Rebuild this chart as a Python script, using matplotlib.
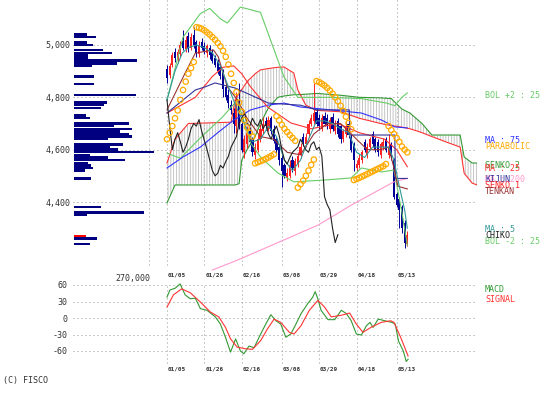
import numpy as np
import matplotlib.pyplot as plt

# ---- candles (trading days from 01/05) ----
opens = [4910, 4885, 4925, 4975, 4945, 4965, 5015, 4985, 5035, 4990, 5040, 5010, 4965, 5010, 4995,
         4970, 4990, 4975, 4950, 4935, 4915, 4900, 4840, 4810, 4770, 4740, 4690, 4780, 4700, 4590,
         4620, 4670, 4640, 4580, 4600, 4640, 4670, 4710, 4680, 4720, 4680, 4640, 4610, 4570, 4540,
         4490, 4500, 4560, 4520, 4545, 4580, 4650, 4620, 4660, 4700, 4710, 4745, 4720, 4680, 4730,
         4720, 4680, 4725, 4670, 4710, 4690, 4640, 4660, 4700, 4650, 4620, 4530, 4540, 4560, 4630,
         4580, 4610, 4660, 4640, 4630, 4580, 4610, 4640, 4580, 4620, 4560, 4430, 4410, 4380, 4320, 4240]
closes = [4875, 4920, 4960, 4950, 4975, 5000, 4990, 5020, 4985, 5030, 5000, 4970, 5000, 4990, 4975,
          4995, 4960, 4940, 4925, 4900, 4880, 4830, 4800, 4780, 4750, 4700, 4790, 4690, 4600, 4640,
          4665, 4630, 4590, 4610, 4640, 4680, 4700, 4690, 4715, 4670, 4635, 4600, 4560, 4520, 4500,
          4510, 4540, 4530, 4555, 4575, 4610, 4630, 4650, 4700, 4720, 4740, 4700, 4690, 4720, 4700,
          4690, 4715, 4680, 4700, 4660, 4640, 4670, 4690, 4655, 4600, 4560, 4545, 4570, 4590, 4600,
          4610, 4640, 4620, 4600, 4590, 4620, 4630, 4600, 4610, 4575, 4420, 4390, 4370, 4300, 4245, 4275]
highs = [4925, 4930, 4975, 4990, 4985, 5015, 5057, 5035, 5050, 5045, 5070, 5020, 5015, 5025, 5010,
         5005, 5000, 4985, 4960, 4945, 4925, 4910, 4855, 4830, 4790, 4760, 4820, 4855, 4710, 4655,
         4690, 4685, 4650, 4625, 4660, 4700, 4725, 4725, 4730, 4730, 4695, 4650, 4620, 4580, 4550,
         4530, 4560, 4575, 4570, 4590, 4625, 4665, 4665, 4715, 4735, 4855, 4760, 4735, 4735, 4745,
         4735, 4725, 4740, 4715, 4720, 4700, 4680, 4705, 4710, 4660, 4630, 4560, 4585, 4600, 4640,
         4625, 4650, 4670, 4650, 4640, 4630, 4645, 4650, 4660, 4630, 4570, 4440, 4420, 4390, 4330, 4290]
lows = [4855, 4875, 4915, 4935, 4930, 4955, 4980, 4975, 4975, 4980, 4990, 4955, 4955, 4980, 4965,
        4955, 4945, 4930, 4915, 4890, 4870, 4800, 4790, 4760, 4735, 4665, 4665, 4680, 4590, 4570,
        4605, 4620, 4575, 4565, 4590, 4630, 4660, 4675, 4670, 4660, 4625, 4585, 4540, 4457, 4490,
        4480, 4490, 4515, 4505, 4535, 4570, 4615, 4610, 4650, 4690, 4700, 4690, 4675, 4670, 4690,
        4680, 4665, 4670, 4660, 4650, 4625, 4630, 4650, 4645, 4590, 4520, 4520, 4530, 4550, 4590,
        4570, 4600, 4610, 4590, 4575, 4570, 4600, 4590, 4570, 4560, 4410, 4380, 4300, 4280, 4225, 4230]

# ---- indicator lines (day, value) ----
bol_up_d = [0, 6, 12.5, 16, 20, 22.6, 27.5, 35, 43.8, 49, 61.5, 72.8, 82.3, 85.3, 88, 90]
bol_up_v = [4790, 5030, 5120, 5140, 5100, 5084, 5145, 5125, 4878, 4800, 4800, 4795, 4778, 4768, 4800, 4817]
bol_lo_d = [0, 5, 11.7, 20.8, 26.4, 31.3, 35, 41.5, 47.5, 59, 69, 72.8, 80.4, 85, 88, 90]
bol_lo_v = [4587, 4567, 4637, 4725, 4790, 4626, 4572, 4511, 4477, 4484, 4492, 4530, 4515, 4522, 4360, 4235]
ma75_d = [0, 6, 12.5, 18.9, 25, 31.3, 37.7, 43.8, 50, 61.5, 72.8, 80.4, 85.3, 90]
ma75_v = [4530, 4572, 4610, 4664, 4713, 4752, 4770, 4778, 4763, 4752, 4740, 4713, 4687, 4683]
ma25_d = [0, 10.6, 17, 21, 25, 28, 31.3, 37.7, 46.4, 54, 64, 72, 81.5, 86, 90]
ma25_v = [4740, 4800, 4880, 4915, 4920, 4890, 4840, 4763, 4702, 4680, 4700, 4665, 4640, 4600, 4535]
ma5_d = [0, 3, 5.7, 8, 11, 14, 17, 20, 23, 26, 29, 32, 35, 38, 41, 44, 47, 50, 53, 56, 59, 62,
         65, 68, 71, 74, 77, 80, 83, 85, 87, 89, 90]
ma5_v = [4790, 4900, 4969, 4990, 5000, 4990, 4970, 4920, 4840, 4760, 4700, 4630, 4640, 4690, 4650,
         4560, 4520, 4560, 4640, 4710, 4710, 4700, 4680, 4665, 4590, 4570, 4610, 4610, 4610, 4560,
         4460, 4370, 4300]
ma200_d = [17, 26.4, 43.8, 56.6, 69, 85, 90]
ma200_v = [4140, 4178, 4255, 4312, 4388, 4477, 4490]
tenkan_d = [0, 6.8, 10.6, 17.4, 19.2, 22.6, 26.4, 30, 35, 40, 45, 50, 55, 60, 65, 70, 75, 80, 83, 85, 86.5, 90]
tenkan_v = [4752, 4893, 4969, 4981, 4955, 4840, 4790, 4720, 4650, 4640, 4590, 4580, 4660, 4700,
            4700, 4650, 4600, 4600, 4610, 4530, 4460, 4450]
kijun_d = [0, 10.6, 14.3, 18, 25.7, 38, 50, 56, 68.3, 68.5, 80.4, 85.3, 85.6, 90]
kijun_v = [4740, 4828, 4840, 4855, 4835, 4778, 4770, 4752, 4752, 4656, 4656, 4656, 4490, 4490]
span_d = [0, 3, 8, 24, 25.5, 27, 28, 30, 33, 35, 38, 41.5, 43.8, 47.5, 49, 52, 56, 65, 72, 80,
          84, 88, 91, 95.5, 99.2, 105.7, 109.8, 111.3, 114.3, 116.2]
senko1 = [4549, 4640, 4700, 4705, 4790, 4815, 4830, 4860, 4890, 4905, 4910, 4915, 4916, 4893, 4828,
          4770, 4750, 4745, 4720, 4700, 4692, 4686, 4680, 4665, 4650, 4625, 4610, 4510, 4472, 4465]
senko2 = [4396, 4465, 4465, 4465, 4465, 4470, 4560, 4600, 4650, 4700, 4760, 4800, 4805, 4810, 4810,
          4812, 4815, 4808, 4800, 4798, 4795, 4755, 4740, 4700, 4656, 4656, 4656, 4572, 4549, 4549]
sar = [4640, 4665, 4690, 4720, 4750, 4790, 4828, 4860, 4890, 4912, 4935, 5068, 5066, 5062, 5056,
       5048, 5040, 5030, 5020, 5008, 4995, 4978, 4955, 4925, 4890, 4855, 4820, 4780, 4745, 4712,
       4685, 4665, 4650, 4548, 4552, 4556, 4560, 4565, 4570, 4576, 4582, 4728, 4712, 4695, 4680,
       4668, 4656, 4645, 4634, 4455, 4468, 4482, 4500, 4520, 4542, 4562, 4862, 4858, 4852, 4845,
       4836, 4826, 4814, 4800, 4785, 4768, 4748, 4726, 4702, 4678, 4484, 4488, 4492, 4497, 4502,
       4507, 4512, 4517, 4522, 4527, 4532, 4537, 4545, 4690, 4675, 4660, 4645, 4630, 4612, 4600, 4590]

# ---- volume by price ----
vp_price = [5040, 5030, 5010, 5000, 4980, 4970, 4960, 4950, 4940, 4930, 4920, 4880, 4850, 4810,
            4780, 4770, 4760, 4730, 4720, 4700, 4690, 4680, 4670, 4660, 4650, 4640, 4620, 4610,
            4600, 4590, 4580, 4570, 4560, 4550, 4540, 4530, 4520, 4490, 4380, 4360, 4350, 4270,
            4260, 4240]
vp_vol = [44, 74, 44, 64, 98, 128, 47, 47, 213, 145, 61, 68, 68, 209, 111, 101, 91, 41, 54, 186,
          135, 196, 155, 186, 196, 115, 165, 122, 149, 270, 54, 115, 172, 47, 57, 64, 37, 57, 91,
          236, 44, 41, 78, 54]

# ---- MACD ----
macd_d = [0, 1.1, 3, 4.9, 6.8, 8.7, 10.6, 12.5, 15, 18.1, 20, 21.9, 23.8, 25.7, 27.5, 28.8, 30.7,
          32.6, 35.1, 37, 38.9, 40.8, 42.6, 44.5, 46.4, 48.3, 50.2, 52.7, 54.6, 55.5, 56.5, 57.7,
          60.3, 62.8, 65.3, 67.2, 69, 70.9, 72.8, 74.7, 76, 77.2, 79.1, 81.6, 84.2, 85.5, 86.7,
          88.5, 89.6, 90.3]
macd_v = [38, 51, 54, 62, 42, 35, 36, 17, 14, 2, -11, -35, -62, -38, -60, -65, -51, -54, -29, -11,
          6, -5, -11, -35, -29, -11, 8, 26, 38, 48, 35, 14, -3, -3, 14, 8, -5, -29, -31, -14, -8,
          -17, -2, -5, -8, -11, -42, -60, -79, -75]
sig_d = [0, 2.4, 5.5, 8.7, 12.5, 16.2, 19.4, 21.9, 23.8, 26.3, 29.4, 32, 35.1, 37.6, 40.1, 42.6,
         45.8, 47.6, 50.2, 53.3, 56.5, 59, 61.5, 65.3, 68.4, 70.9, 73.4, 76.4, 80.2, 83.8, 85, 87.5, 90.3]
sig_v = [20, 42, 53, 46, 29, 11, 2, -17, -38, -53, -56, -57, -41, -20, -2, -8, -26, -29, -14, 14,
         32, 20, 2, 5, 9, -11, -26, -17, -8, -5, -8, -35, -69]

date_days = [0, 14, 28, 43, 57, 71, 86]
date_labels = ['01/05', '01/26', '02/16', '03/08', '03/29', '04/18', '05/13']

# ---- layout (pixels) ----
W, H = 558, 396
X0, PX_DAY = 167, 2.67
MONO = 'DejaVu Sans Mono'
GRID = dict(color='#999999', lw=0.72, linestyle=(0, (1, 3)))

def px_axes(fig, x0, y0, x1, y1):
    a = fig.add_axes([x0 / W, 1 - y1 / H, (x1 - x0) / W, (y1 - y0) / H])
    a.set_facecolor('none')
    for s in a.spines.values():
        s.set_visible(False)
    return a

def price_at(ypx):
    return 5000 - (ypx - 45) / 0.26167

def ftext(x, y, s, **kw):
    fig.text(x / W, 1 - y / H, s, family=MONO, fontsize=6, va='center', **kw)

plt.rcParams['hatch.linewidth'] = 0.6
fig = plt.figure(figsize=(W / 100, H / 100), dpi=100)
fig.patch.set_facecolor('white')
xlim = ((73 - X0) / PX_DAY, (477 - X0) / PX_DAY)

# main price panel
ax = px_axes(fig, 73, 0, 477, 272)
ax.set_xlim(xlim)
ax.set_ylim(price_at(272), price_at(0))
ax.set_yticks([4400, 4600, 4800, 5000])
ax.set_yticklabels(['{:,}'.format(v) for v in [4400, 4600, 4800, 5000]], family=MONO, fontsize=6, color='#333333')
ax.tick_params(length=0, pad=2)
ax.set_xticks([])
ax.grid(axis='y', **GRID)
for d in date_days + [(149 - X0) / PX_DAY]:
    ax.axvline(d, ymin=0.026, ymax=1, **GRID)
for d, lab in zip(date_days, date_labels):
    ax.text(d + 0.3, -0.011, lab, transform=ax.get_xaxis_transform(), family=MONO,
            fontsize=4.3, fontweight='bold', color='#333333', va='center', ha='left')

# cloud
ax.fill_between(span_d, senko1, senko2, facecolor='none', edgecolor='#bbbbbb', hatch='||||||', lw=0, zorder=1)
ax.plot(span_d, senko2, color='#339933', lw=0.8, zorder=2)
ax.plot(span_d, senko1, color='#ff3333', lw=0.8, zorder=2)

# candles
days = np.arange(len(closes))
o, c, h, l = map(np.array, (opens, closes, highs, lows))
col = np.where(c >= o, '#ff2222', '#000099')
ax.vlines(days, l, h, colors=col, lw=0.7, zorder=3)
ax.bar(days, np.maximum(np.abs(c - o), 3), bottom=np.minimum(o, c), width=0.8, color=col, lw=0, zorder=3)

# lines
ax.plot(ma200_d, ma200_v, color='#ff99cc', lw=0.8, zorder=4)
ax.plot(bol_up_d, bol_up_v, color='#66cc66', lw=0.8, zorder=4)
ax.plot(bol_lo_d, bol_lo_v, color='#66cc66', lw=0.8, zorder=4)
ax.plot(ma75_d, ma75_v, color='#3333ff', lw=0.8, zorder=4)
ax.plot(ma25_d, ma25_v, color='#ff3333', lw=0.8, zorder=4)
ax.plot(kijun_d, kijun_v, color='#333399', lw=0.8, zorder=4)
ax.plot(tenkan_d, tenkan_v, color='#993333', lw=0.8, zorder=4)
ax.plot(ma5_d, ma5_v, color='#339999', lw=0.8, zorder=4)
ax.plot(days[:len(closes) - 26], closes[26:], color='#222222', lw=0.8, zorder=4)
ax.scatter(days, sar, s=15, facecolors='none', edgecolors='#ffaa00', linewidths=0.9, zorder=5)

# volume profile
vax = px_axes(fig, 74, 0, 154, 272)
vax.set_xlim(0, 270)
vax.set_ylim(ax.get_ylim())
vax.set_xticks([]); vax.set_yticks([])
vcol = ['#ff0000' if p == 4270 else '#000080' for p in vp_price]
vax.barh(vp_price, vp_vol, height=9.2, color=vcol, lw=0, zorder=3)
ftext(150, 279, '270,000', ha='right', color='#333333')

# MACD panel
mx = px_axes(fig, 73, 279, 477, 364)
mx.set_xlim(xlim)
mx.set_ylim(-60 - 13 / 0.55, 60 + 6 / 0.55)
mx.set_yticks([-60, -30, 0, 30, 60])
mx.set_yticklabels(['-60', '-30', '0', '30', '60'], family=MONO, fontsize=6, color='#333333')
mx.tick_params(length=0, pad=4)
mx.set_xticks([])
mx.grid(axis='y', **GRID)
for d, lab in zip(date_days, date_labels):
    mx.axvline(d, ymin=0.012, ymax=0.953, **GRID)
    mx.text(d + 0.3, -0.06, lab, transform=mx.get_xaxis_transform(), family=MONO,
            fontsize=4.3, fontweight='bold', color='#333333', va='center', ha='left')
mx.plot(macd_d, macd_v, color='#339933', lw=0.8)
mx.plot(sig_d, sig_v, color='#ff3333', lw=0.8)

# legend texts on the right
ftext(485, 96, 'BOL +2 : 25', color='#66cc66')
ftext(485, 140, 'MA : 75', color='#3333ff')
ftext(485, 146, 'PARABOLIC', color='#ffaa00')
ftext(485, 166, 'SENKO 2', color='#339933')
ftext(485, 169, 'MA : 25', color='#ff3333')
ftext(485, 179, 'MA : 200', color='#ff99cc')
ftext(485, 179, 'KIJUN', color='#333399')
ftext(485, 186, 'SENKO 1', color='#ff2222')
ftext(485, 192, 'TENKAN', color='#993333')
ftext(485, 229, 'MA : 5', color='#339999')
ftext(485, 241, 'BOL -2 : 25', color='#66cc66')
ftext(485, 235, 'CHIKO', color='#222222')
ftext(485, 289, 'MACD', color='#339933')
ftext(485, 299, 'SIGNAL', color='#ff3333')
ftext(3, 381, '(C) FISCO', color='#333333')

fig.savefig('out.png', dpi=100)
